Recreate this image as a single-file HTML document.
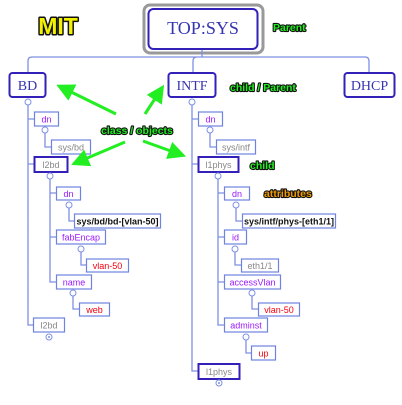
<!DOCTYPE html>
<html><head><style>
body{margin:0;background:#fff;}
svg{display:block;font-family:"Liberation Sans",sans-serif;}
.b{fill:#fff;stroke:#6f82e0;stroke-width:1.2;}
.t{fill:#fff;stroke:#3320b8;stroke-width:2;}
.l{fill:none;stroke:#7e90e4;stroke-width:1.3;}
.c{fill:#fff;stroke:#7e90e4;stroke-width:1;}
.s{font-size:9px;text-anchor:middle;}
.p{fill:#9a18ff;}.g{fill:#888;}.k{fill:#111;font-weight:bold;}.r{fill:#f00010;}
.big{font-family:"Liberation Serif",serif;fill:#3535b0;text-anchor:middle;}
.lab{font-weight:bold;font-size:10.5px;stroke:#111;stroke-width:2.2;paint-order:stroke;stroke-linejoin:round;}
</style></head><body>
<svg width="402" height="405" viewBox="0 0 402 405">
<defs><marker id="a" markerWidth="6" markerHeight="6" refX="3.5" refY="3" orient="auto"><path d="M0,0 L6,3 L0,6 Z" fill="#22ee22"/></marker></defs>
<text x="58" y="34" font-size="23" font-weight="bold" fill="#f2f200" stroke="#111" stroke-width="3" paint-order="stroke" stroke-linejoin="round" text-anchor="middle">MIT</text>
<rect x="144" y="5" width="119" height="48" rx="6" fill="#fff" stroke="#999" stroke-width="3"/>
<rect x="148.5" y="9" width="109" height="40" rx="5" class="t"/>
<text x="203" y="34" font-size="18" class="big">TOP:SYS</text>
<text x="273" y="31" class="lab" fill="#22ee22">Parent</text>
<path class="l" d="M202,50 V57 M28,73 V61 Q28,57 32,57 H365 Q369,57 369,61 V73 M193,73 V61 Q193,57 197,57"/>
<rect x="9.5" y="73" width="36" height="24" rx="3" class="t"/><text x="27.5" y="90" font-size="14" class="big">BD</text>
<rect x="168.5" y="73" width="47" height="24" rx="3" class="t"/><text x="192" y="90" font-size="14" class="big">INTF</text>
<rect x="344.5" y="73" width="50" height="24" rx="3" class="t"/><text x="369.5" y="90" font-size="14" class="big">DHCP</text>
<text x="230" y="91" class="lab" fill="#22ee22">child / Parent</text>
<!-- BD tree -->
<path class="l" d="M28,105 V325 H33 M28,119 H34 M28,164 H34 M45,133 V147 H51 M50,179 V282 H56 M50,193 H56 M50,237 H56 M69,208 V221 H74 M81,252 V265 H86 M73,296 V309 H79"/>
<circle cx="28" cy="102" r="3" class="c"/>
<rect x="34.5" y="112" width="24" height="14" class="b"/><text x="46.5" y="122.5" class="s p">dn</text>
<circle cx="45" cy="130" r="3" class="c"/>
<rect x="51.5" y="140" width="39" height="14" class="b"/><text x="71" y="150.5" class="s g">sys/bd</text>
<rect x="34.5" y="157" width="33" height="15" class="t"/><text x="51" y="168" class="s g">l2bd</text>
<circle cx="50" cy="176" r="3" class="c"/>
<rect x="56.5" y="187" width="24" height="13" class="b"/><text x="68.5" y="197" class="s p">dn</text>
<circle cx="69" cy="205" r="3" class="c"/>
<rect x="74.5" y="214" width="86" height="14" class="b"/><text x="117.5" y="224.5" class="s k">sys/bd/bd-[vlan-50]</text>
<rect x="56.5" y="230" width="49" height="14" class="b"/><text x="81" y="240.5" class="s p">fabEncap</text>
<circle cx="81" cy="249" r="3" class="c"/>
<rect x="86.5" y="259" width="42" height="13" class="b"/><text x="107.5" y="269" class="s r">vlan-50</text>
<rect x="56.5" y="275" width="35" height="14" class="b"/><text x="74" y="285.5" class="s p">name</text>
<circle cx="73" cy="293" r="3" class="c"/>
<rect x="79.5" y="303" width="30" height="13" class="b"/><text x="94.5" y="313" class="s r">web</text>
<rect x="33.5" y="318" width="31" height="14" class="b"/><text x="49" y="328.5" class="s g">l2bd</text>
<circle cx="49" cy="337" r="3" class="c"/><circle cx="49" cy="337" r="1" fill="#7e90e4"/>
<!-- INTF tree -->
<path class="l" d="M192,105 V371 H198 M192,119 H198 M192,164 H198 M210,133 V147 H216 M218,179 V325 H224 M218,193 H224 M218,237 H224 M218,282 H224 M236,208 V221 H242 M235,252 V265 H241 M252,296 V309 H258 M246,340 V353 H251"/>
<circle cx="192" cy="102" r="3" class="c"/>
<rect x="198.5" y="112" width="24" height="14" class="b"/><text x="210.5" y="122.5" class="s p">dn</text>
<circle cx="210" cy="130" r="3" class="c"/>
<rect x="216.5" y="140" width="39" height="14" class="b"/><text x="236" y="150.5" class="s g">sys/intf</text>
<rect x="198.5" y="157" width="40" height="15" class="t"/><text x="218.5" y="168" class="s g">l1phys</text>
<circle cx="218" cy="176" r="3" class="c"/>
<text x="250" y="169" class="lab" fill="#22ee22">child</text>
<rect x="224.5" y="187" width="25" height="13" class="b"/><text x="237" y="197" class="s p">dn</text>
<text x="264" y="197" class="lab" fill="#f09a00">attributes</text>
<circle cx="236" cy="205" r="3" class="c"/>
<rect x="242.5" y="214" width="93" height="14" class="b"/><text x="289" y="224.5" class="s k">sys/intf/phys-[eth1/1]</text>
<rect x="224.5" y="230" width="22" height="14" class="b"/><text x="235.5" y="240.5" class="s p">id</text>
<circle cx="235" cy="249" r="3" class="c"/>
<rect x="241.5" y="259" width="37" height="13" class="b"/><text x="260" y="269" class="s g">eth1/1</text>
<rect x="224.5" y="275" width="56" height="14" class="b"/><text x="252.5" y="285.5" class="s p">accessVlan</text>
<circle cx="252" cy="293" r="3" class="c"/>
<rect x="258.5" y="303" width="41" height="13" class="b"/><text x="279" y="313" class="s r">vlan-50</text>
<rect x="224.5" y="318" width="43" height="14" class="b"/><text x="246" y="328.5" class="s p">adminst</text>
<circle cx="246" cy="337" r="3" class="c"/>
<rect x="251.5" y="346" width="24" height="14" class="b"/><text x="263.5" y="356.5" class="s r">up</text>
<rect x="198.5" y="364" width="41" height="15" class="t"/><text x="219" y="375" class="s g">l1phys</text>
<circle cx="219" cy="383" r="3" class="c"/><circle cx="219" cy="383" r="1" fill="#7e90e4"/>
<!-- arrows -->
<g stroke="#22ee22" stroke-width="3" marker-end="url(#a)" fill="none">
<line x1="116" y1="114" x2="63" y2="88"/>
<line x1="145" y1="114" x2="160" y2="91"/>
<line x1="125" y1="142" x2="78" y2="162"/>
<line x1="143" y1="141" x2="179" y2="154"/>
</g>
<text x="137" y="134" class="lab" fill="#22ee22" text-anchor="middle">class / objects</text>
</svg>
</body></html>
